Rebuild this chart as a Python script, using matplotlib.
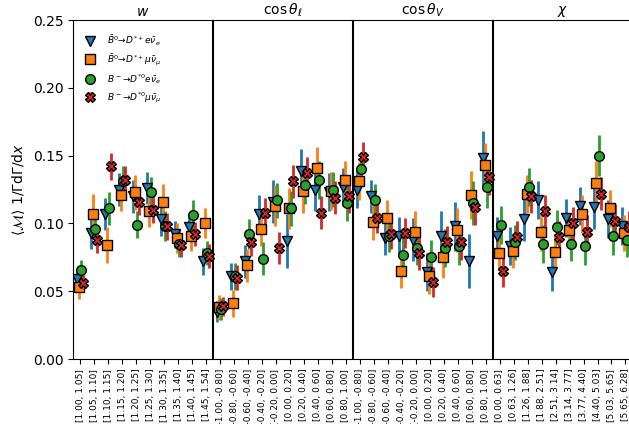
import numpy as np
import matplotlib
matplotlib.use("Agg")
import matplotlib.pyplot as plt
import matplotlib.transforms as mtransforms

# bin labels for the four projections
w_bins = ["[1.00, 1.05]", "[1.05, 1.10]", "[1.10, 1.15]", "[1.15, 1.20]", "[1.20, 1.25]",
          "[1.25, 1.30]", "[1.30, 1.35]", "[1.35, 1.40]", "[1.40, 1.45]", "[1.45, 1.54]"]
cos_bins = ["[-1.00, -0.80]", "[-0.80, -0.60]", "[-0.60, -0.40]", "[-0.40, -0.20]", "[-0.20, 0.00]",
            "[0.00, 0.20]", "[0.20, 0.40]", "[0.40, 0.60]", "[0.60, 0.80]", "[0.80, 1.00]"]
chi_bins = ["[0.00, 0.63]", "[0.63, 1.26]", "[1.26, 1.88]", "[1.88, 2.51]", "[2.51, 3.14]",
            "[3.14, 3.77]", "[3.77, 4.40]", "[4.40, 5.03]", "[5.03, 5.65]", "[5.65, 6.28]"]
tick_labels = w_bins + cos_bins + cos_bins + chi_bins
panel_titles = [r"$w$", r"$\cos\theta_\ell$", r"$\cos\theta_V$", r"$\chi$"]

labels = [r"$\bar{B}^0\!\rightarrow\! D^{*+} e\bar{\nu}_e$",
          r"$\bar{B}^0\!\rightarrow\! D^{*+} \mu\bar{\nu}_\mu$",
          r"$B^-\!\rightarrow\! D^{*0} e\bar{\nu}_e$",
          r"$B^-\!\rightarrow\! D^{*0} \mu\bar{\nu}_\mu$"]

# values (w | cos theta_l | cos theta_V | chi)
b0_e = [0.059, 0.093, 0.107, 0.125, 0.120, 0.126, 0.103, 0.092, 0.097, 0.072,
        0.035, 0.061, 0.072, 0.107, 0.116, 0.087, 0.139, 0.125, 0.123, 0.127,
        0.125, 0.120, 0.089, 0.091, 0.088, 0.064, 0.091, 0.098, 0.072, 0.148,
        0.091, 0.083, 0.103, 0.117, 0.064, 0.104, 0.113, 0.112, 0.103, 0.098]
b0_mu = [0.053, 0.107, 0.084, 0.121, 0.123, 0.109, 0.116, 0.089, 0.091, 0.100,
         0.038, 0.041, 0.069, 0.096, 0.113, 0.111, 0.124, 0.141, 0.124, 0.132,
         0.131, 0.101, 0.104, 0.065, 0.094, 0.061, 0.075, 0.095, 0.121, 0.143,
         0.078, 0.080, 0.122, 0.094, 0.079, 0.095, 0.107, 0.130, 0.111, 0.093]
bm_e = [0.066, 0.096, 0.111, 0.131, 0.099, 0.123, 0.098, 0.085, 0.106, 0.078,
        0.037, 0.061, 0.092, 0.074, 0.117, 0.111, 0.128, 0.132, 0.125, 0.115,
        0.140, 0.117, 0.091, 0.077, 0.082, 0.075, 0.082, 0.083, 0.115, 0.127,
        0.099, 0.086, 0.127, 0.085, 0.097, 0.085, 0.083, 0.150, 0.091, 0.088]
bm_mu = [0.056, 0.088, 0.142, 0.132, 0.116, 0.110, 0.098, 0.084, 0.092, 0.076,
         0.039, 0.060, 0.086, 0.108, 0.082, 0.131, 0.137, 0.108, 0.119, 0.120,
         0.149, 0.104, 0.092, 0.093, 0.078, 0.057, 0.086, 0.086, 0.112, 0.134,
         0.065, 0.090, 0.120, 0.109, 0.090, 0.100, 0.094, 0.122, 0.102, 0.097]

b0_e_err = [0.006, 0.012, 0.012, 0.012, 0.012, 0.012, 0.012, 0.010, 0.010, 0.010,
            0.008, 0.010, 0.012, 0.014, 0.016, 0.020, 0.016, 0.016, 0.014, 0.014,
            0.014, 0.012, 0.012, 0.014, 0.016, 0.014, 0.018, 0.018, 0.020, 0.020,
            0.014, 0.014, 0.016, 0.014, 0.014, 0.014, 0.014, 0.016, 0.014, 0.014]
b0_mu_err = [0.009, 0.015, 0.013, 0.012, 0.013, 0.012, 0.013, 0.011, 0.011, 0.011,
             0.009, 0.010, 0.012, 0.013, 0.015, 0.015, 0.016, 0.015, 0.014, 0.014,
             0.014, 0.013, 0.013, 0.013, 0.015, 0.013, 0.015, 0.016, 0.018, 0.016,
             0.013, 0.013, 0.014, 0.014, 0.013, 0.013, 0.014, 0.016, 0.014, 0.013]
bm_e_err = [0.007, 0.011, 0.012, 0.011, 0.010, 0.011, 0.011, 0.010, 0.011, 0.009,
            0.008, 0.010, 0.011, 0.012, 0.013, 0.013, 0.014, 0.014, 0.013, 0.013,
            0.012, 0.012, 0.012, 0.012, 0.013, 0.013, 0.014, 0.014, 0.016, 0.016,
            0.014, 0.013, 0.014, 0.014, 0.013, 0.013, 0.014, 0.015, 0.014, 0.013]
bm_mu_err = [0.006, 0.010, 0.010, 0.010, 0.010, 0.010, 0.010, 0.009, 0.009, 0.009,
             0.007, 0.009, 0.010, 0.011, 0.012, 0.012, 0.012, 0.012, 0.012, 0.012,
             0.011, 0.011, 0.011, 0.011, 0.012, 0.011, 0.012, 0.013, 0.013, 0.013,
             0.012, 0.012, 0.012, 0.012, 0.012, 0.012, 0.012, 0.012, 0.012, 0.012]

series = [(b0_e, b0_e_err, "v", "C0"), (b0_mu, b0_mu_err, "s", "C1"),
          (bm_e, bm_e_err, "o", "C2"), (bm_mu, bm_mu_err, "X", "C3")]
offsets = [-0.225, -0.075, 0.075, 0.225]

fig = plt.figure(figsize=(6.29, 4.24), dpi=100)
ax = fig.add_axes([0.1165, 0.1533, 0.889, 0.7995])

x = np.arange(len(tick_labels))
for (vals, errs, mk, col), off, lab in zip(series, offsets, labels):
    ax.errorbar(x + off, vals, yerr=errs, fmt=mk, color=col, ecolor=col,
                elinewidth=2, markersize=7, markeredgecolor="black",
                markeredgewidth=1, label=lab, zorder=3)

for b in [9.5, 19.5, 29.5]:
    ax.axvline(b, color="black", lw=1.5)

trans = mtransforms.blended_transform_factory(ax.transData, ax.transAxes)
for i, t in enumerate(panel_titles):
    ax.text(10 * i + 4.5, 1.004, t, transform=trans, ha="center", va="bottom", fontsize=10)

ax.set_xlim(-0.5, 39.5)
ax.set_ylim(0, 0.25)
ax.set_xticks(x)
ax.set_xticklabels(tick_labels, rotation=90, fontsize=6.5)
ax.set_ylabel(r"$\langle\mathcal{M}\rangle$ 1/$\Gamma$d$\Gamma$/d$x$")
ax.legend(loc="upper left", frameon=False, fontsize=6.5, bbox_to_anchor=(0.0, 0.985))

fig.savefig("out.png", dpi=100)
